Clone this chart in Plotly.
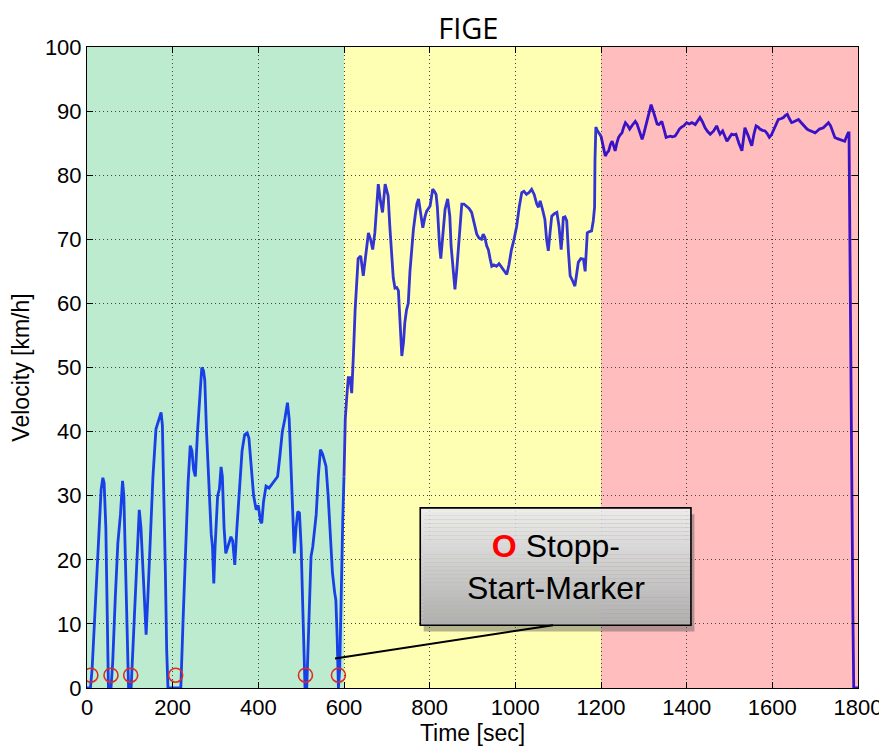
import plotly.graph_objects as go
import numpy as np

# FIGE driving cycle
time_s = [0, 8, 12, 20, 28, 33, 37, 40, 44, 47, 50, 56, 60, 66, 72, 78, 83, 86, 90, 94,
          97, 103, 107, 113, 118, 122, 126, 130, 134, 138, 142, 148, 154, 161, 166, 170, 173, 176, 179, 183,
          186, 189, 206, 219, 224, 230, 236, 241, 245, 249, 253, 258, 263, 268, 272, 275, 279, 285, 290, 293,
          296, 299, 305, 309, 313, 316, 320, 324, 330, 336, 340, 345, 350, 356, 362, 368, 374, 378, 383, 389,
          395, 400, 405, 408, 412, 418, 425, 432, 440, 445, 450, 456, 462, 468, 472, 476, 480, 484, 488, 492,
          496, 500, 504, 507, 509, 513, 517, 523, 527, 531, 535, 540, 545, 550, 555, 558, 563, 568, 573, 578,
          581, 584, 587, 590, 593, 597, 600, 603, 606, 610, 614, 618, 622, 626, 633, 639, 645, 651, 657, 662,
          667, 672, 676, 680, 685, 690, 696, 703, 707, 711, 715, 719, 723, 727, 731, 735, 739, 742, 746, 750,
          754, 758, 762, 766, 770, 774, 779, 784, 789, 793, 801, 807, 811, 815, 818, 820, 823, 826, 830, 836,
          842, 847, 850, 854, 859, 863, 867, 871, 875, 880, 886, 892, 898, 904, 910, 915, 921, 925, 929, 933,
          937, 941, 945, 950, 956, 962, 968, 974, 980, 985, 991, 997, 1003, 1009, 1015, 1020, 1026, 1032, 1038, 1044,
          1050, 1054, 1058, 1064, 1069, 1073, 1077, 1081, 1085, 1091, 1097, 1102, 1107, 1110, 1112, 1116, 1120, 1124, 1128, 1134,
          1139, 1143, 1147, 1153, 1159, 1163, 1168, 1173, 1178, 1182, 1185, 1186, 1188, 1191, 1195, 1200, 1205, 1210, 1214, 1218,
          1222, 1226, 1230, 1233, 1237, 1241, 1245, 1249, 1253, 1257, 1262, 1267, 1273, 1280, 1284, 1288, 1292, 1296, 1300, 1307,
          1312, 1317, 1322, 1327, 1331, 1335, 1342, 1347, 1352, 1357, 1362, 1367, 1373, 1378, 1383, 1388, 1393, 1400, 1406, 1412,
          1420, 1426, 1431, 1437, 1443, 1449, 1455, 1463, 1470, 1474, 1478, 1484, 1489, 1494, 1500, 1505, 1510, 1515, 1522, 1529,
          1536, 1540, 1544, 1548, 1552, 1557, 1562, 1567, 1571, 1577, 1583, 1588, 1593, 1598, 1602, 1608, 1614, 1620, 1626, 1630,
          1635, 1640, 1645, 1649, 1653, 1657, 1661, 1666, 1671, 1676, 1681, 1686, 1690, 1695, 1700, 1705, 1710, 1715, 1719, 1725,
          1731, 1736, 1741, 1746, 1752, 1758, 1764, 1769, 1773, 1777, 1779, 1780, 1782, 1784, 1786, 1788, 1790, 1800]

velocity_kmh = [0, 0, 3, 14, 25, 31, 32.8, 32, 25, 10, 0, 0, 4, 14, 22.6, 27, 32.3, 30, 18, 4,
                0, 0, 6, 16, 24, 27.8, 25, 20, 13, 8.3, 14, 25, 33, 40.4, 41.5, 42.5, 43, 41, 33, 18,
                6, 0, 0, 0, 10, 22, 32, 37.8, 37, 34, 33, 40, 46, 50, 49.5, 48, 40, 30, 24, 22,
                16.3, 22, 30, 31, 34.5, 33, 25, 21, 22.5, 23.6, 23, 19.2, 25, 32, 37, 39.5, 39.8, 39, 35, 30,
                27.8, 28.5, 26, 25.7, 29, 31.5, 31.2, 31.8, 32.5, 33, 36, 40, 42, 44.5, 42, 35, 26, 21, 25, 27.5,
                27.3, 22, 12, 3, 0, 0, 8, 20.5, 22, 24.4, 27, 33, 37.2, 36.5, 35.5, 34.6, 30, 24, 18, 15,
                13.7, 8, 0, 3, 14, 26, 33, 42, 45, 48.4, 48.4, 46, 52, 59, 67, 67.4, 64.3, 68, 71, 70,
                68.4, 71, 75, 78.6, 76, 74.2, 78.6, 76.8, 72, 67, 64, 62.4, 62.5, 62, 56, 51.8, 54, 57, 59, 60,
                65, 69, 71.5, 73.6, 75.5, 76.3, 74, 71.8, 73.5, 74.4, 75.2, 77.8, 77.5, 77, 75, 72, 69, 67, 70, 74.7,
                76.3, 73.6, 69, 65.3, 62.2, 65, 68.4, 72, 75.5, 75.5, 75.2, 74.8, 74.2, 72.5, 70.8, 70.2, 70, 70.8, 70.3, 69,
                68.4, 67, 65.8, 66, 65.8, 66.2, 65.6, 65, 64.5, 66, 68.4, 70, 72, 75, 77.3, 77.5, 77, 77.3, 77.8, 77,
                75.5, 75, 76, 74.5, 73.1, 70, 68.2, 71, 73.6, 74, 74.2, 72, 68.4, 71, 73.4, 73.5, 72.9, 68, 64.3, 63.5,
                62.7, 64.5, 66.4, 67, 66.9, 65, 71, 71.2, 71.3, 72.9, 75, 82.5, 87.5, 87, 86.6, 86.1, 84.5, 83, 83.5, 83.8,
                84.8, 85.3, 84.5, 83.8, 85, 85.9, 86.3, 86.6, 87.5, 88.2, 87.8, 87.2, 87.8, 88.4, 88, 87.2, 86.5, 85.6, 86.5, 88.2,
                89.5, 91, 90, 88.7, 88, 87.9, 88.4, 87.2, 85.9, 86, 86.1, 86, 86.1, 86.6, 87.2, 87.5, 87.7, 88.2, 88, 88.2,
                87.9, 88.5, 89, 88.3, 87.4, 86.8, 86.4, 86.9, 87.7, 87, 86.4, 86.9, 86, 85.3, 85.9, 86.4, 86.3, 86.4, 85, 83.8,
                87.4, 86.8, 86.1, 85.3, 84.6, 86.4, 87.7, 87.5, 87.2, 87, 86.9, 86.5, 85.9, 86.3, 86.9, 87.8, 88.7, 88.8, 89, 89.3,
                89.5, 88.8, 88.2, 88.3, 88.4, 88.5, 88.7, 88.3, 87.9, 87.5, 87.2, 87, 86.9, 86.8, 86.6, 86.9, 87.2, 87.3, 87.4, 87.8,
                88.2, 87.7, 86.8, 85.9, 85.7, 85.6, 85.4, 85.3, 86, 86.6, 86.6, 77, 66, 47, 28, 12, 0, 0]

# stop-start markers
stop_times = [9, 56, 102, 207, 510, 587]
stop_level = [2, 2, 2, 2, 2, 2]

# phases: urban / rural / motorway
phase_edges = [0, 600, 1200, 1800]
phase_fill = ["#bdebd0", "#ffffb3", "#ffbdbd"]
phase_line = ["#1740e6", "#3434d2", "#3a12c6"]

x_ticks = [0, 200, 400, 600, 800, 1000, 1200, 1400, 1600, 1800]
y_ticks = [0, 10, 20, 30, 40, 50, 60, 70, 80, 90, 100]

t = np.array(time_s, dtype=float)
v = np.array(velocity_kmh, dtype=float)

fig = go.Figure()

shapes = []
for i in range(3):
    shapes.append(dict(type="rect", xref="x", yref="y", layer="below",
                       x0=phase_edges[i], x1=phase_edges[i + 1], y0=0, y1=100,
                       fillcolor=phase_fill[i], line_width=0))

for i in range(3):
    m = (t >= phase_edges[i]) & (t <= phase_edges[i + 1])
    fig.add_trace(go.Scatter(x=t[m], y=v[m], mode="lines",
                             line=dict(color=phase_line[i], width=2.8),
                             showlegend=False, hoverinfo="skip"))

fig.add_trace(go.Scatter(x=stop_times, y=stop_level, mode="markers",
                         marker=dict(symbol="circle-open", size=14, color="#e02a22",
                                     line=dict(width=1.6)),
                         showlegend=False))

# callout box with a vertical grey gradient and a small shadow
bx0, bx1, by0, by1 = 778, 1410, 9.8, 28.1
shapes.append(dict(type="rect", xref="x", yref="y", layer="above",
                   x0=bx0 + 8, x1=bx1 + 8, y0=by0 - 1.0, y1=by1 - 1.0,
                   fillcolor="rgba(90,90,90,0.45)", line_width=0))
n = 30
for k in range(n):
    g = int(236 - (236 - 176) * k / (n - 1))
    ya = by1 - (by1 - by0) * k / n
    yb = by1 - (by1 - by0) * (k + 1) / n
    shapes.append(dict(type="rect", xref="x", yref="y", layer="above",
                       x0=bx0, x1=bx1, y0=yb, y1=ya,
                       fillcolor=f"rgb({g},{g},{g})", line_width=0))
shapes.append(dict(type="rect", xref="x", yref="y", layer="above",
                   x0=bx0, x1=bx1, y0=by0, y1=by1,
                   line=dict(color="black", width=1.6)))
shapes.append(dict(type="line", xref="x", yref="y", layer="above",
                   x0=579, y0=4.6, x1=1088, y1=9.8,
                   line=dict(color="black", width=2)))

fig.add_annotation(x=(bx0 + bx1) / 2, y=(by0 + by1) / 2, xref="x", yref="y",
                   text="<b><span style='color:#ff0000'>O</span></b> Stopp-<br>Start-Marker",
                   showarrow=False, align="center",
                   font=dict(family="Liberation Sans, Arial", size=32, color="black"))

axis_common = dict(showline=True, linecolor="black", linewidth=1, mirror="ticks",
                   ticks="inside", ticklen=6, tickcolor="black",
                   showgrid=True, gridcolor="#444444", gridwidth=1, griddash="1px,3px",
                   zeroline=False, automargin=False,
                   tickfont=dict(family="Liberation Sans, Arial", size=22, color="black"),
                   title_font=dict(family="Liberation Sans, Arial", size=23, color="black"))

# the page body adds an 8px offset, so margins are shifted by that amount
fig.update_layout(
    width=887, height=747,
    margin=dict(l=79, r=37, t=39, b=67),
    paper_bgcolor="white", plot_bgcolor="white",
    title=dict(text="FIGE", x=0.519, xanchor="center", y=0.972, yanchor="middle",
               font=dict(family="Open Sans, Noto Sans", size=29, color="black")),
    xaxis=dict(range=[0, 1800], tickvals=x_ticks, title=dict(text="Time [sec]", standoff=2),
               **axis_common),
    yaxis=dict(range=[0, 100], tickvals=y_ticks, title=dict(text="Velocity [km/h]", standoff=8),
               **axis_common),
    shapes=shapes,
)

fig.write_html("out.html")
